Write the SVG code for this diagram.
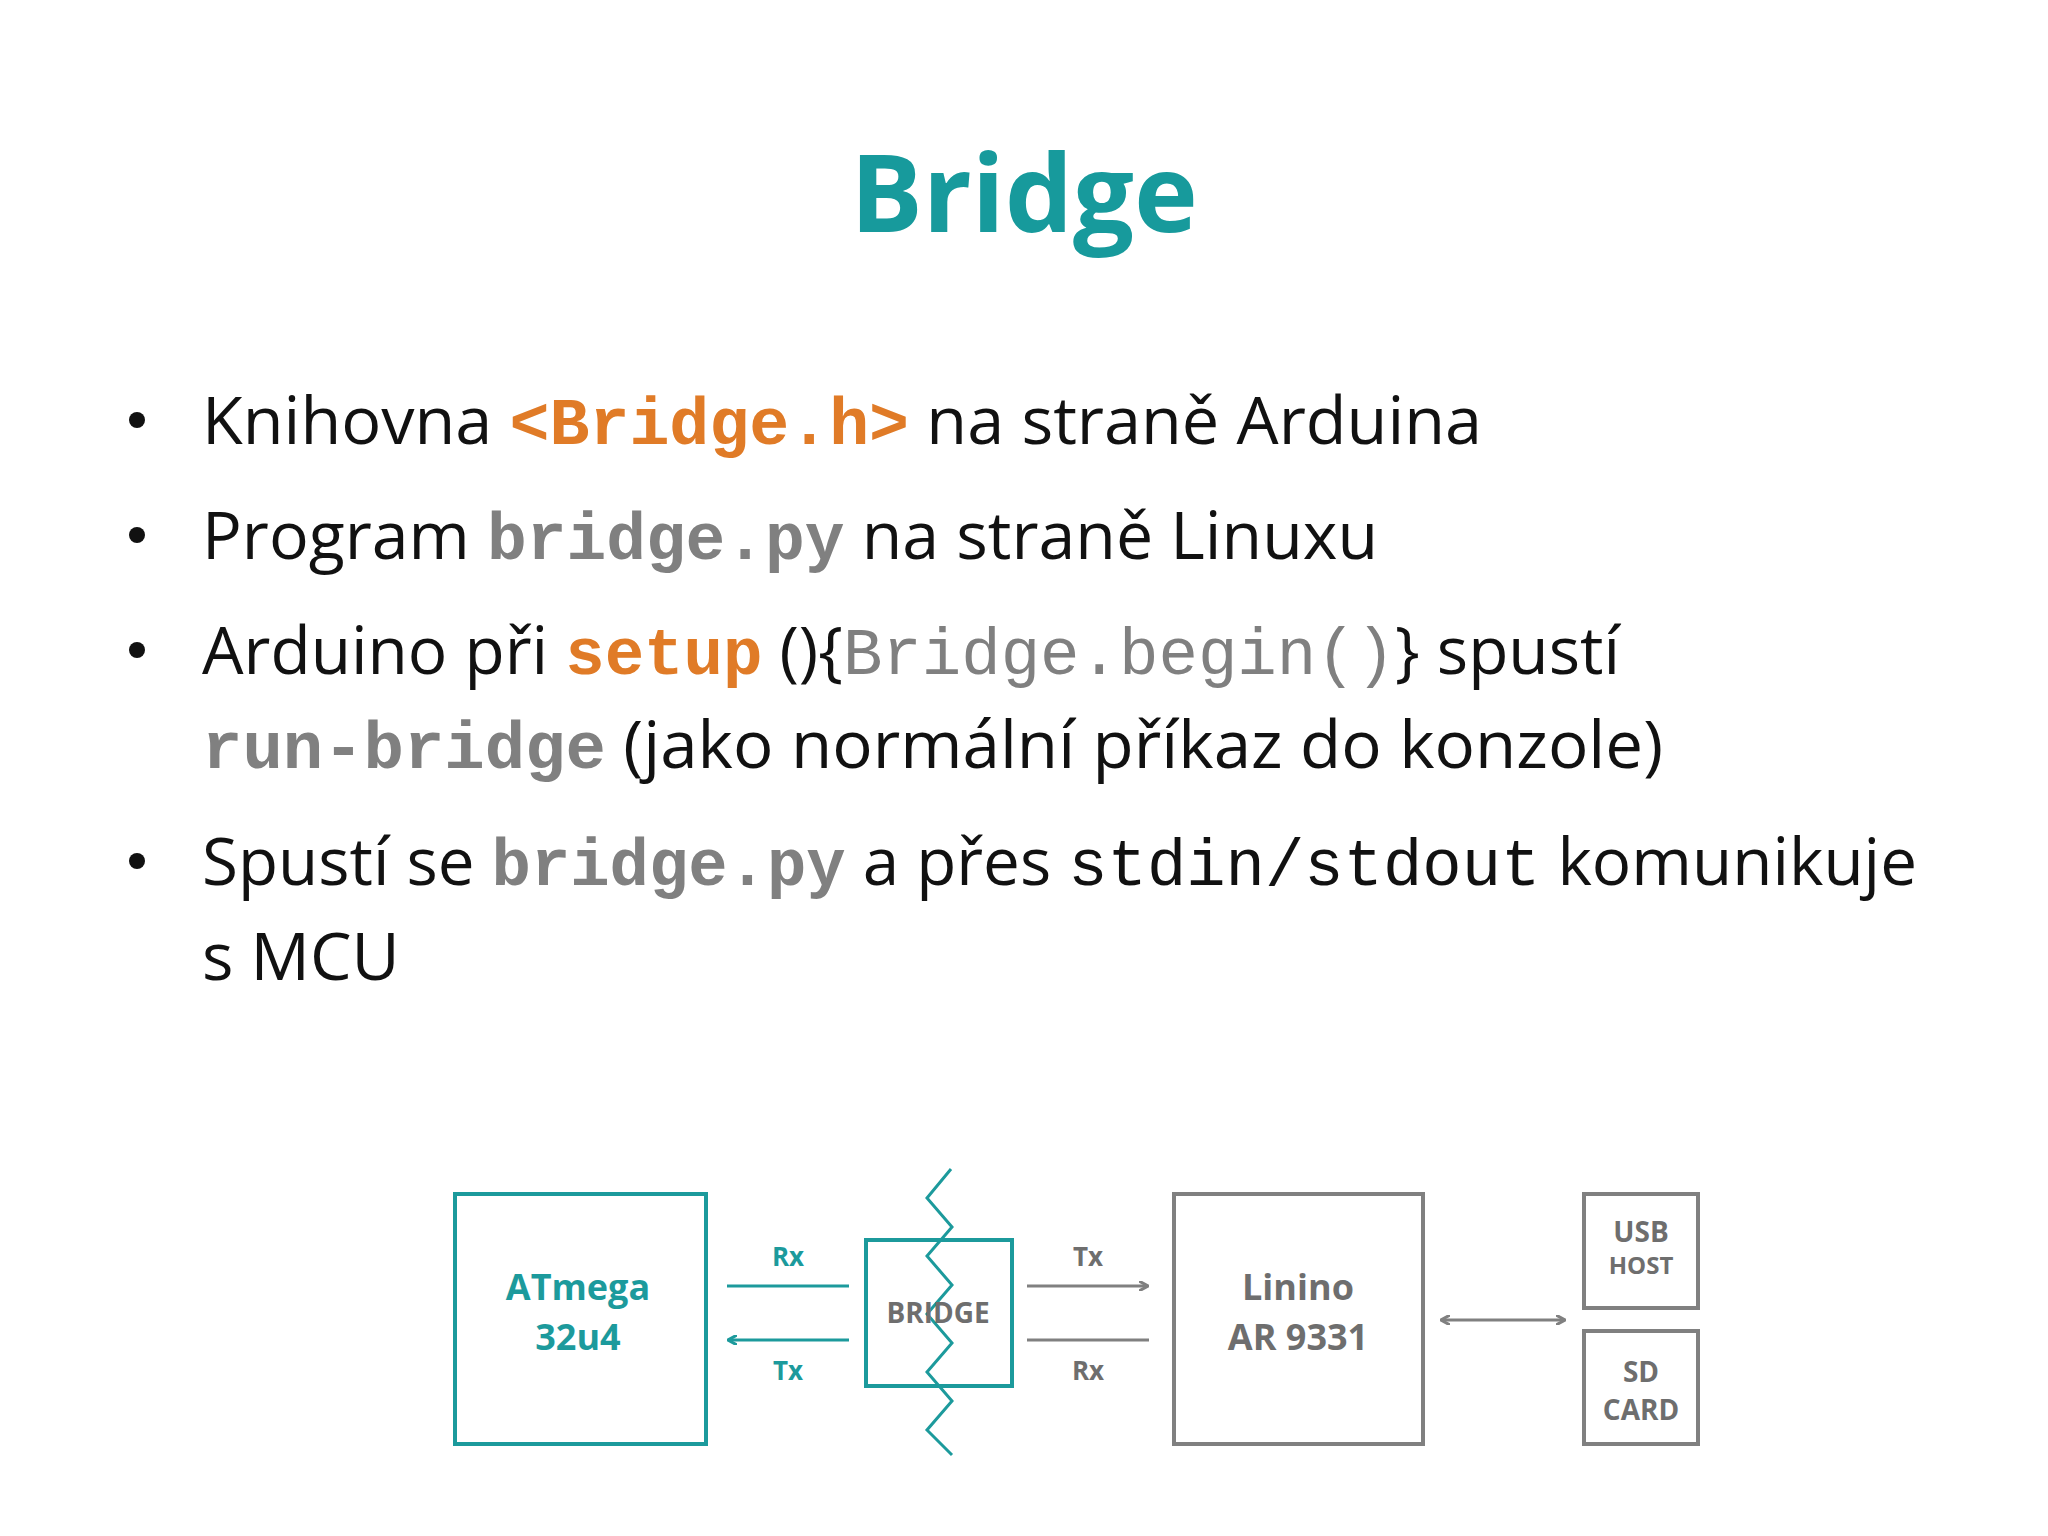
<svg xmlns="http://www.w3.org/2000/svg" width="2048" height="1536" viewBox="0 0 2048 1536">
<style>
.t{font-family:"Open Sans","Liberation Sans",sans-serif;font-size:66px;fill:#111}
.m{font-family:"Liberation Mono",monospace}
.o{fill:#e07b27;font-weight:bold}
.g{fill:#808080;font-weight:bold}
.gn{fill:#808080}
.d{font-family:"Open Sans","Liberation Sans",sans-serif;font-weight:bold;text-anchor:middle}
.teal{fill:#1c9a9c}
.gray{fill:#6e6e6e}
.bt{fill:none;stroke:#1c9a9c;stroke-width:4}
.bg{fill:none;stroke:#808080;stroke-width:4}
</style>
<defs>
<marker id="ah" markerWidth="10" markerHeight="10" refX="8" refY="5" orient="auto-start-reverse" markerUnits="userSpaceOnUse"><path d="M0,0 L9,5 L0,10" fill="none" stroke="context-stroke" stroke-width="3"/></marker>
</defs>
<rect width="2048" height="1536" fill="#fff"/>
<text x="1024" y="232" text-anchor="middle" font-family="'Open Sans','Liberation Sans',sans-serif" font-weight="bold" font-size="108" fill="#179a9c">Bridge</text>
<g class="t">
<circle cx="137" cy="420" r="8" fill="#111"/>
<circle cx="137" cy="535" r="8" fill="#111"/>
<circle cx="137" cy="650" r="8" fill="#111"/>
<circle cx="137" cy="861" r="8" fill="#111"/>
<text x="202" y="444" textLength="1280" lengthAdjust="spacingAndGlyphs">Knihovna <tspan class="m o">&lt;Bridge.h&gt;</tspan> na straně Arduina</text>
<text x="202" y="559" textLength="1176" lengthAdjust="spacingAndGlyphs">Program <tspan class="m g">bridge.py</tspan> na straně Linuxu</text>
<text x="202" y="674" textLength="1418" lengthAdjust="spacingAndGlyphs">Arduino při <tspan class="m o">setup</tspan> (){<tspan class="m gn">Bridge.begin()</tspan>} spustí</text>
<text x="202" y="768" textLength="1461" lengthAdjust="spacingAndGlyphs"><tspan class="m g">run-bridge</tspan> (jako normální příkaz do konzole)</text>
<text x="202" y="885" textLength="1715" lengthAdjust="spacingAndGlyphs">Spustí se <tspan class="m g">bridge.py</tspan> a přes <tspan class="m">stdin/stdout</tspan> komunikuje</text>
<text x="202" y="980">s MCU</text>
</g>
<g id="atmega"><rect class="bt" x="455" y="1194" width="251" height="250"/>
<text class="d teal" x="578" y="1300" font-size="36">ATmega</text><text class="d teal" x="578" y="1350" font-size="36">32u4</text></g>
<g id="bridge"><rect class="bt" x="866" y="1240" width="146" height="146"/>
<path d="M951,1169 L927,1198 L952,1227 L927,1256 L952,1285 L927,1314 L952,1343 L927,1372 L952,1401 L927,1430 L952,1455" fill="none" stroke="#1c9a9c" stroke-width="3"/>
<text class="d gray" x="938" y="1323" font-size="28">BRIDGE</text></g>
<g id="linino"><rect class="bg" x="1174" y="1194" width="249" height="250"/>
<text class="d gray" x="1298" y="1300" font-size="36">Linino</text><text class="d gray" x="1298" y="1350" font-size="36">AR 9331</text></g>
<g id="usb"><rect class="bg" x="1584" y="1194" width="114" height="114"/>
<text class="d gray" x="1641" y="1242" font-size="28">USB</text><text class="d gray" x="1641" y="1274" font-size="24">HOST</text></g>
<g id="sd"><rect class="bg" x="1584" y="1331" width="114" height="113"/>
<text class="d gray" x="1641" y="1382" font-size="28">SD</text><text class="d gray" x="1641" y="1420" font-size="28">CARD</text></g>
<g id="connectors" stroke-width="3">
<line x1="727" y1="1286" x2="849" y2="1286" stroke="#1c9a9c"/>
<line x1="849" y1="1340" x2="729" y2="1340" stroke="#1c9a9c" marker-end="url(#ah)"/>
<line x1="1027" y1="1286" x2="1147" y2="1286" stroke="#808080" marker-end="url(#ah)"/>
<line x1="1027" y1="1340" x2="1149" y2="1340" stroke="#808080"/>
<line x1="1442" y1="1320" x2="1564" y2="1320" stroke="#808080" marker-start="url(#ah)" marker-end="url(#ah)"/>
<text class="d teal" x="788" y="1266" font-size="26" stroke="none">Rx</text>
<text class="d teal" x="788" y="1380" font-size="26" stroke="none">Tx</text>
<text class="d gray" x="1088" y="1266" font-size="26" stroke="none">Tx</text>
<text class="d gray" x="1088" y="1380" font-size="26" stroke="none">Rx</text>
</g>
</svg>
